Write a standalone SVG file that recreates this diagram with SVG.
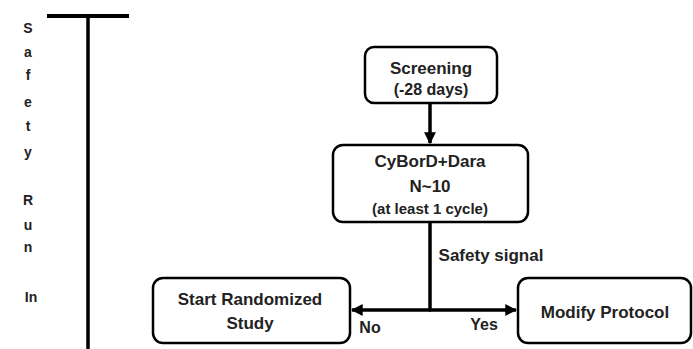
<svg xmlns="http://www.w3.org/2000/svg" width="693" height="349" viewBox="0 0 693 349">
<style>
.box{fill:#fff;stroke:#000;stroke-width:2.5}
.ln{stroke:#000;stroke-width:3.5;fill:none}
.t{font-family:"Liberation Sans",Arial,sans-serif;font-weight:bold;fill:#222;font-size:17px;text-anchor:middle}
.s{font-family:"Liberation Sans",Arial,sans-serif;font-weight:bold;fill:#222;font-size:14px;text-anchor:middle}
</style>
<defs>
<marker id="ah" viewBox="0 0 10 10" refX="9" refY="5" markerWidth="3.4" markerHeight="3.4" orient="auto" markerUnits="strokeWidth">
<path d="M0,0 L10,5 L0,10 z" fill="#000"/>
</marker>
</defs>
<rect width="693" height="349" fill="#fff"/>
<g id="timeline">
<line x1="47" y1="16" x2="129" y2="16" stroke="#000" stroke-width="4"/>
<line x1="88" y1="16" x2="88" y2="349" stroke="#000" stroke-width="3.5"/>
<text class="s" x="28" y="33">S</text>
<text class="s" x="28" y="57">a</text>
<text class="s" x="28" y="80">f</text>
<text class="s" x="28" y="107">e</text>
<text class="s" x="28" y="131">t</text>
<text class="s" x="28" y="157">y</text>
<text class="s" x="28" y="205">R</text>
<text class="s" x="28" y="230">u</text>
<text class="s" x="28" y="252">n</text>
<text class="s" x="31" y="302">In</text>
</g>
<g id="connectors">
<line class="ln" x1="430" y1="103" x2="430" y2="143" marker-end="url(#ah)"/>
<line class="ln" x1="430" y1="222" x2="430" y2="310"/>
<line class="ln" x1="431" y1="310" x2="352" y2="310" marker-end="url(#ah)"/>
<line class="ln" x1="429" y1="310" x2="516" y2="310" marker-end="url(#ah)"/>
<text class="t" x="491" y="261">Safety signal</text>
<text class="t" x="370" y="333" style="font-size:16px">No</text>
<text class="t" x="484" y="330" style="font-size:16px">Yes</text>
</g>
<g id="screening">
<rect class="box" x="365" y="47" width="132" height="56" rx="9"/>
<text class="t" x="431" y="74">Screening</text>
<text class="t" x="431" y="95" style="font-size:16px">(-28 days)</text>
</g>
<g id="cybord">
<rect class="box" x="333" y="145" width="195" height="77" rx="10"/>
<text class="t" x="430" y="167">CyBorD+Dara</text>
<text class="t" x="430" y="192">N~10</text>
<text class="t" x="430" y="214" style="font-size:15px">(at least 1 cycle)</text>
</g>
<g id="start">
<rect class="box" x="153" y="278" width="197" height="65" rx="10"/>
<text class="t" x="250" y="305">Start Randomized</text>
<text class="t" x="250" y="329">Study</text>
</g>
<g id="modify">
<rect class="box" x="518" y="278" width="173" height="65" rx="10"/>
<text class="t" x="605" y="318">Modify Protocol</text>
</g>
</svg>
